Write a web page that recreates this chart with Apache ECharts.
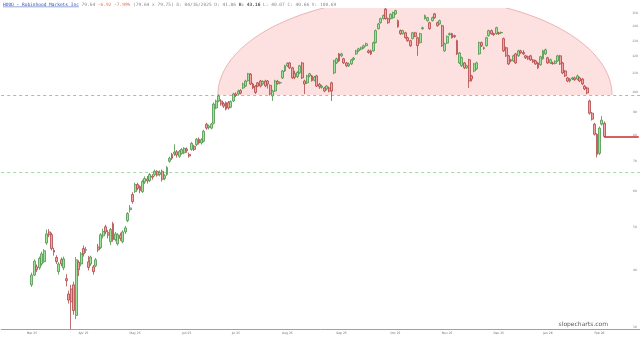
<!DOCTYPE html>
<html>
<head>
<meta charset="utf-8">
<script src="https://cdn.jsdelivr.net/npm/echarts@6/dist/echarts.min.js"></script>
<style>html,body{margin:0;padding:0;background:#fff}#c{width:640px;height:340px}</style>
</head>
<body>
<div id="c"></div>
<script>
// ---------- data ----------
const ticker = 'HOOD';
const companyName = 'Robinhood Markets Inc';
const startDate = '2025-03-14';
const holidays = ['2025-04-18','2025-05-26','2025-06-19','2025-07-04','2025-09-01','2025-11-27','2025-12-25','2026-01-01','2026-01-19','2026-02-16'];

const opens = [
37.2,39.1,40.8,40.6,41.4,41.9,46.1,48.8,48.1,44.4,
42.8,39.8,42.3,40.6,38.4,35.5,36.4,37.2,31.8,41.8,
41.4,44.8,44.4,41.86,41.4,40.8,41.0,45.2,45.0,47.8,
50.1,48.6,46.4,50.9,46.9,45.9,48.0,46.4,48.8,51.7,
54.7,59.1,60.0,62.2,61.6,60.0,63.0,64.0,63.5,65.0,
65.4,66.5,65.5,66.6,64.2,65.5,70.1,72.6,72.8,73.6,
71.9,73.0,73.2,74.7,72.6,74.5,75.7,76.3,78.5,77.0,
77.7,84.8,83.3,83.1,85.2,92.1,95.5,95.5,94.2,94.7,
94.7,92.5,95.5,99.0,99.0,100.8,102.1,103.1,106.0,109.6,
104.2,103.1,104.8,105.8,104.2,105.8,105.8,103.5,98.0,100.5,
105.6,104.8,107.5,111.4,114.4,116.1,113.2,110.0,108.2,110.3,
116.1,105.8,104.8,108.6,108.6,106.2,108.6,104.0,102.4,102.1,
101.6,102.1,104.8,110.3,116.1,121.6,120.4,118.6,116.1,114.4,
115.5,118.2,121.6,123.5,124.6,125.5,126.8,123.5,123.5,123.5,
128.8,138.4,142.7,145.7,153.0,145.7,145.7,146.4,149.3,144.2,
137.0,134.9,135.5,132.1,130.1,131.5,135.5,132.1,128.8,138.4,
145.7,144.2,142.7,144.2,149.3,142.7,141.8,140.5,123.5,128.5,
134.2,134.9,133.5,130.1,116.1,114.4,116.1,113.2,118.0,108.6,
111.4,112.6,121.6,128.8,125.5,126.8,133.5,137.0,134.9,134.9,
135.5,135.5,131.5,125.5,120.4,117.9,117.3,121.6,120.4,123.5,
122.5,120.4,119.8,120.4,117.9,117.3,116.1,115.0,118.6,121.6,
119.2,116.1,116.1,115.8,117.3,120.4,116.1,111.4,107.5,105.8,
106.9,107.5,106.9,107.5,106.9,103.1,102.1,95.5,89.7,84.8,
80.5,73.0,84.8,85.2];

const closes = [
39.1,42.0,40.2,42.6,43.6,44.3,48.3,48.1,44.8,44.0,
41.9,41.4,41.4,42.5,38.0,34.4,34.1,32.6,42.3,40.2,
43.6,43.6,44.6,40.66,42.9,39.8,42.3,44.5,48.1,48.9,
48.8,48.0,49.4,46.9,48.3,48.1,47.2,48.8,49.8,53.6,
55.2,57.0,62.2,61.0,60.3,63.2,64.2,63.4,65.5,64.6,
66.6,65.3,66.2,63.9,65.1,67.9,71.2,71.2,73.5,72.4,
73.8,74.5,74.9,74.0,72.0,76.9,74.5,78.5,77.0,78.3,
81.8,83.1,84.0,84.8,94.0,95.5,98.0,94.0,93.0,91.6,
92.1,95.2,99.0,98.3,100.5,99.5,104.2,105.8,109.8,104.2,
102.1,99.8,103.1,103.1,105.6,103.2,104.2,99.0,100.5,105.8,
104.5,104.9,111.4,114.4,115.8,113.2,107.5,107.8,110.6,114.4,
107.5,104.2,108.6,109.8,106.0,108.0,103.1,102.8,103.1,100.5,
103.1,100.5,100.5,117.3,118.6,117.3,121.6,116.1,114.4,115.5,
117.9,119.0,123.5,124.8,125.5,126.8,128.1,122.5,121.6,128.8,
137.0,141.8,145.7,148.0,145.7,142.7,149.0,150.3,151.8,139.8,
134.9,137.0,132.1,130.1,126.8,135.5,133.0,126.8,134.9,139.0,
148.0,146.4,138.4,146.4,146.4,140.5,144.2,126.8,128.1,133.0,
134.9,132.1,132.8,121.6,122.2,119.2,113.2,114.4,105.8,106.9,
115.5,116.1,128.8,126.8,125.0,132.1,137.0,134.9,134.2,139.1,
134.9,135.7,123.5,120.4,115.5,117.3,120.4,116.1,123.5,122.3,
121.6,119.2,118.6,117.9,116.7,115.5,113.2,119.8,123.5,124.2,
116.1,118.0,115.7,117.0,120.4,115.5,110.3,108.6,105.8,106.9,
107.5,106.5,108.6,105.8,104.2,101.6,99.5,89.7,87.0,80.5,
72.6,83.1,86.56,79.64];

const lows = [
36.8,38.9,39.7,40.2,41.0,41.6,45.7,47.5,44.4,43.2,
41.4,39.2,40.9,40.1,36.9,33.8,29.66,31.9,31.2,38.9,
40.9,43.0,43.8,40.07,41.0,39.2,40.7,44.0,44.7,47.2,
48.2,47.2,45.6,46.4,46.5,45.5,46.6,46.0,48.3,51.3,
53.9,56.4,59.6,60.4,59.5,59.6,62.4,62.5,63.0,63.8,
64.9,64.8,64.9,63.2,63.6,65.0,69.6,70.6,72.0,71.4,
71.3,72.5,72.7,73.2,71.4,74.0,73.9,75.8,76.4,76.4,
77.2,82.4,82.5,82.6,84.7,91.5,94.9,93.2,92.1,91.0,
91.4,92.0,95.0,97.4,98.2,98.8,101.5,102.6,105.5,103.6,
101.5,99.0,102.5,102.4,103.5,102.5,101.8,98.2,95.5,100.0,
103.8,104.0,106.9,110.8,113.7,112.5,106.9,106.8,107.4,109.6,
106.9,99.0,104.2,107.9,105.5,105.6,102.6,101.6,101.7,99.9,
100.8,99.8,95.5,109.6,115.4,116.6,119.6,115.5,113.6,113.7,
114.9,117.5,121.0,122.8,123.9,124.8,126.2,121.8,120.9,123.0,
128.3,137.8,142.0,145.0,145.0,141.8,145.0,145.5,148.7,139.0,
134.0,134.2,131.5,129.4,126.0,131.0,132.4,120.4,128.2,137.6,
145.0,143.5,137.6,143.6,145.6,139.8,141.2,126.0,122.8,128.0,
133.5,131.5,131.9,120.9,115.4,113.7,112.5,112.6,102.1,105.5,
110.7,112.0,121.0,126.0,124.2,126.2,132.9,134.2,133.4,134.2,
134.0,134.6,122.8,119.7,114.8,116.5,116.7,115.5,119.8,121.6,
120.9,118.5,117.9,117.3,116.1,114.9,112.5,114.4,118.0,121.0,
115.5,115.4,115.0,115.2,116.7,114.9,109.6,108.0,105.2,105.0,
106.3,105.9,106.2,105.2,103.6,101.0,98.9,89.0,86.4,80.0,
71.5,72.4,84.2,79.2];

const highs = [
39.6,42.4,41.3,43.0,44.1,44.7,49.4,49.5,48.6,45.0,
43.3,41.8,42.8,43.0,39.3,36.1,37.2,37.8,42.9,42.2,
44.0,45.5,45.2,43.16,43.2,41.2,42.7,45.9,48.5,49.6,
50.6,49.3,49.8,51.4,48.8,48.5,48.6,49.2,50.3,54.0,
56.0,59.8,62.8,62.8,62.0,63.8,64.9,65.0,66.0,65.6,
67.2,67.0,66.9,67.2,65.6,68.4,71.8,73.2,76.5,74.3,
74.3,75.0,75.4,75.3,73.3,77.4,76.3,79.0,79.2,78.9,
82.4,85.4,84.6,85.4,94.8,96.2,98.8,96.4,95.0,95.3,
95.5,95.8,99.6,99.8,101.2,101.5,104.9,106.5,110.3,110.2,
104.9,103.6,105.3,106.4,106.2,106.5,106.3,104.0,101.2,106.5,
106.4,105.6,112.0,115.0,116.5,116.6,113.8,111.6,111.3,115.0,
116.7,106.5,109.2,110.3,109.2,108.6,109.2,104.8,103.8,102.7,
103.6,102.8,105.4,118.0,119.3,122.2,122.3,119.2,116.7,116.3,
118.5,119.7,124.2,125.5,126.2,127.5,128.8,124.4,124.3,129.5,
137.8,142.6,146.4,148.8,153.86,146.5,149.8,151.0,152.5,145.0,
137.8,137.6,136.2,132.8,130.7,136.0,136.2,132.8,135.5,139.8,
148.8,147.0,143.4,147.2,150.0,143.4,144.9,141.2,128.8,133.6,
135.6,135.5,134.2,130.8,122.8,119.9,116.7,115.0,118.6,109.2,
116.1,116.8,129.5,129.5,126.3,132.8,137.7,137.8,135.6,139.8,
136.2,136.4,132.2,126.2,121.0,118.6,121.0,122.2,124.2,124.2,
123.9,121.0,120.5,121.0,118.5,117.9,116.7,120.4,124.2,124.9,
119.8,118.7,116.8,117.7,121.0,121.0,116.7,112.0,108.1,107.5,
108.1,108.2,109.3,108.2,107.5,103.7,102.7,96.2,90.3,85.4,
81.0,83.8,88.4,86.0];

const yTickValues = [30,40,50,60,70,80,90,100,110,120,130,140,150];
const xTickDates = ['2025-03-14','2025-04-14','2025-05-14','2025-06-13','2025-07-15','2025-08-13','2025-09-15','2025-10-15','2025-11-13','2025-12-15','2026-01-14','2026-02-13'];
const xTickLabels = ['Mar 25','Apr 25','May 25','Jun 25','Jul 25','Aug 25','Sep 25','Oct 25','Nov 25','Dec 25','Jan 26','Feb 26'];

const necklinePrice = 98.5;      // red dashed neckline
const supportPrice = 66.2;       // green dashed level
const domeStartIdx = 75.7;       // trading-day index where dome starts
const domeEndIdx = 236.1;        // trading-day index where dome ends
const domeTopPrice = 163;        // nominal top of the dome ellipse
const headerIdx = 23;            // candle shown in header readout
const headerBid = 79.64, headerAsk = 79.75, headerVol = '100.69';

// ---------- build ----------
function tradingDays(start, count, hol) {
  const out = [];
  const d = new Date(start + 'T12:00:00Z');
  while (out.length < count) {
    const s = d.toISOString().slice(0, 10);
    const dow = d.getUTCDay();
    if (dow !== 0 && dow !== 6 && hol.indexOf(s) < 0) out.push(s);
    d.setUTCDate(d.getUTCDate() + 1);
  }
  return out;
}
const N = closes.length;
const dates = tradingDays(startDate, N, holidays);
const padL = 12, padR = 14;
const xData = [];
for (let i = 0; i < padL; i++) xData.push('_l' + i);
dates.forEach(d => xData.push(d));
for (let i = 0; i < padR; i++) xData.push('_r' + i);

const source = dates.map((d, i) => [d, opens[i], closes[i], lows[i], highs[i]]);
const labelMap = {};
xTickDates.forEach((d, i) => { labelMap[d] = xTickLabels[i]; });

const yMin = Math.min.apply(null, lows);
const yMax = Math.max.apply(null, highs);
const lastClose = closes[N - 1];

const chart = echarts.init(document.getElementById('c'), null, { renderer: 'canvas' });

const option = {
  animation: false,
  backgroundColor: '#ffffff',
  grid: { left: 1.2, right: 0, top: 8, bottom: 11, containLabel: false },
  dataset: { source: source },
  xAxis: {
    type: 'category',
    data: xData,
    boundaryGap: true,
    axisLine: { show: true, onZero: false, lineStyle: { color: '#a0a0a0', width: 1 } },
    axisTick: { show: false },
    splitLine: { show: false },
    axisLabel: {
      interval: (idx, val) => labelMap.hasOwnProperty(val),
      formatter: val => labelMap[val] || '',
      fontSize: 3,
      color: '#6a6f80',
      margin: 3,
      fontFamily: 'DejaVu Sans'
    }
  },
  yAxis: {
    type: 'log',
    logBase: 10,
    position: 'right',
    min: yMin,
    max: yMax,
    axisLine: { show: false },
    axisTick: { show: false },
    axisLabel: { show: false },
    splitLine: { show: false }
  },
  series: [
    {
      type: 'custom',
      coordinateSystem: 'cartesian2d',
      clip: true,
      silent: true,
      z: 1,
      data: [[padL, necklinePrice]],
      renderItem: function (params, api) {
        const cs = params.coordSys;
        const p0 = api.coord([padL, necklinePrice]);
        const p1 = api.coord([padL + 100, necklinePrice]);
        const bw = (p1[0] - p0[0]) / 100;
        const cIdx = (domeStartIdx + domeEndIdx) / 2;
        const aIdx = (domeEndIdx - domeStartIdx) / 2;
        const lnB = Math.log(domeTopPrice / necklinePrice);
        const pts = [];
        for (let k = 0; k <= 120; k++) {
          const t = Math.PI * k / 120;
          const xi = cIdx - aIdx * Math.cos(t);
          const price = Math.exp(Math.log(necklinePrice) + lnB * Math.sin(t));
          const yPix = api.coord([padL, price])[1];
          pts.push([p0[0] + xi * bw, yPix]);
        }
        const yN = Math.round(p0[1]) + 0.5;
        const yS = Math.round(api.coord([padL, supportPrice])[1]) + 0.5;
        return {
          type: 'group',
          children: [
            { type: 'polygon', shape: { points: pts }, style: { fill: 'rgba(250,165,165,0.34)', stroke: 'none', lineWidth: 0 } },
            { type: 'polyline', shape: { points: pts }, style: { stroke: '#e8a3a3', lineWidth: 0.8, fill: 'none' } },
            { type: 'line', shape: { x1: cs.x, y1: yN, x2: cs.x + cs.width, y2: yN }, style: { stroke: '#f59a9a', lineWidth: 1, lineDash: [3, 3] } },
            { type: 'line', shape: { x1: cs.x, y1: yS, x2: cs.x + cs.width, y2: yS }, style: { stroke: '#a3d9a0', lineWidth: 1, lineDash: [3, 3] } }
          ]
        };
      }
    },
    {
      type: 'candlestick',
      encode: { x: 0, y: [1, 2, 3, 4] },
      barWidth: 2.4,
      z: 3,
      itemStyle: {
        color: '#9ee39a',
        color0: '#f2a3a3',
        borderColor: '#4e944b',
        borderColor0: '#b04848',
        borderWidth: 0.8
      },
      markLine: {
        silent: true,
        symbol: ['none', 'none'],
        animation: false,
        label: { show: false },
        lineStyle: { color: '#cc2a2a', type: 'solid', width: 1.5 },
        data: [
          [
            { coord: [dates[N - 1], lastClose] },
            { coord: [xData[xData.length - 1], lastClose] }
          ]
        ]
      }
    }
  ]
};

chart.setOption(option);

// ---------- text overlays ----------
function fmtDate(s) { const p = s.split('-'); return p[1] + '/' + p[2] + '/' + p[0]; }
const chg = lastClose - closes[N - 2];
const pct = chg / closes[N - 2] * 100;
const hi = headerIdx;
const graphics = [];

graphics.push({
  type: 'text', x: 3, y: 4.4, silent: true,
  style: {
    text: '{t|' + ticker + ' - ' + companyName + '} {g|' + lastClose.toFixed(2) + '} {r|' + chg.toFixed(2) + ' ' + pct.toFixed(2) + '%} ' +
      '{g|(' + headerBid.toFixed(2) + ' x ' + headerAsk.toFixed(2) + ') D: ' + fmtDate(dates[hi]) + ' O: ' + opens[hi].toFixed(2) + '} ' +
      '{b|H: ' + highs[hi].toFixed(2) + '} {g|L: ' + lows[hi].toFixed(2) + ' C: ' + closes[hi].toFixed(2) + ' V: ' + headerVol + '}',
    verticalAlign: 'middle',
    fontFamily: 'DejaVu Sans Mono',
    fontSize: 4.5,
    rich: {
      t: { fill: '#2f4fb8', fontSize: 4.5, fontFamily: 'DejaVu Sans Mono' },
      g: { fill: '#8a8a8a', fontSize: 4.5, fontFamily: 'DejaVu Sans Mono' },
      r: { fill: '#e0735a', fontSize: 4.5, fontFamily: 'DejaVu Sans Mono' },
      b: { fill: '#555555', fontSize: 4.5, fontWeight: 'bold', fontFamily: 'DejaVu Sans Mono' }
    }
  }
});
graphics.push({
  type: 'line', silent: true,
  shape: { x1: 3, y1: 6.8, x2: 3 + (ticker + ' - ' + companyName).length * 2.71, y2: 6.8 },
  style: { stroke: '#2f4fb8', lineWidth: 0.5 }
});
graphics.push({
  type: 'text', x: 608, y: 324, silent: true,
  style: { text: 'slopecharts.com', align: 'right', verticalAlign: 'middle', fontSize: 6, fill: '#5a5a5a', fontFamily: 'DejaVu Sans' }
});
yTickValues.forEach(v => {
  const y = chart.convertToPixel({ yAxisIndex: 0 }, v);
  graphics.push({
    type: 'text', x: 635, y: y, silent: true, z: 10,
    style: { text: String(v), align: 'center', verticalAlign: 'middle', fontSize: 3, fill: '#7a7a7a', fontFamily: 'DejaVu Sans' }
  });
});
chart.setOption({ graphic: graphics });
</script>
</body>
</html>
